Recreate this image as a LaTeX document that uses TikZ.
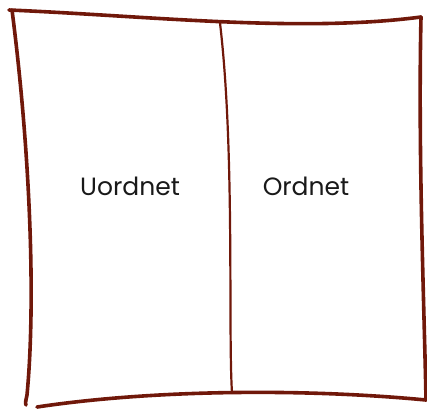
\documentclass[tikz,border=0pt]{standalone}
\usepackage{fontspec}
\setmainfont{Poppins}
\definecolor{stroke}{RGB}{112,24,10}
\definecolor{ink}{RGB}{25,25,25}
\begin{document}
\begin{tikzpicture}[x=1pt,y=-1pt,
  outer/.style={draw=stroke,line width=3.6pt,line cap=round,line join=round},
  inner/.style={draw=stroke,line width=2.2pt,line cap=round},
  lbl/.style={text=ink,font=\fontsize{25}{30}\selectfont,inner sep=0pt}]
\useasboundingbox (0,0) rectangle (427,408);
\coordinate (tl) at (9,10);
\coordinate (tr) at (421,17);
\coordinate (br) at (426,400);
\coordinate (bl) at (37,407);
\coordinate (lb) at (26,405);
\coordinate (lt) at (12,10);
\coordinate (dt) at (220,23);
\coordinate (db) at (232,393);
\draw[outer] (tl) .. controls (150,16) and (300,33) .. (tr);
\draw[outer] (tr) .. controls (418,150) and (424,300) .. (br);
\draw[outer] (br) .. controls (300,388) and (150,390) .. (bl);
\draw[outer] (lt) .. controls (30,150) and (36,300) .. (27,395) .. controls (26,400) and (25,403) .. (lb);
\draw[inner] (dt) .. controls (235,150) and (228,330) .. (db);
\node[lbl] (u) at (130,186) {Uordnet};
\node[lbl] (o) at (306,186) {Ordnet};
\end{tikzpicture}
\end{document}
